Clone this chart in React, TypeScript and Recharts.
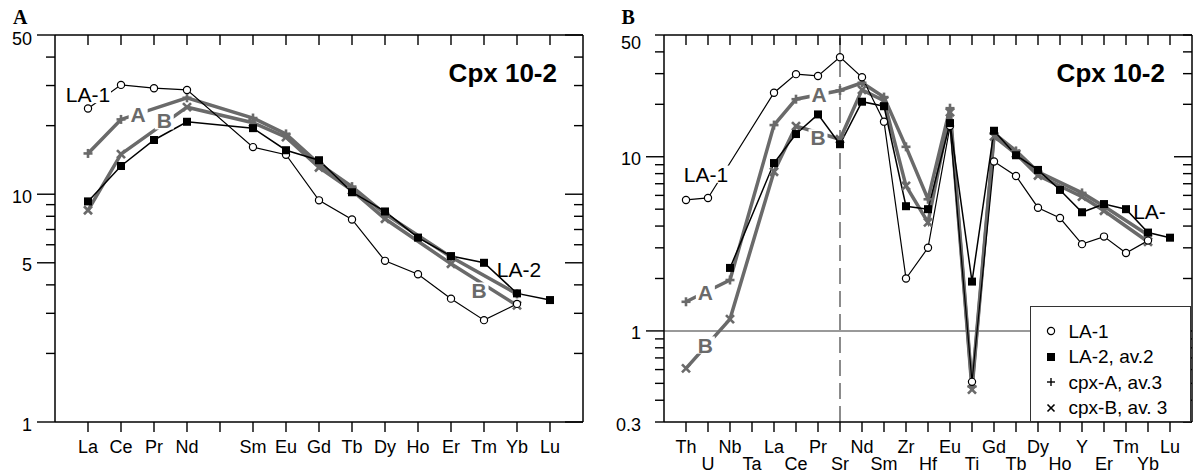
import React from "react";
import {
  LineChart,
  Line,
  XAxis,
  YAxis,
  ReferenceLine,
  ReferenceDot,
  Legend,
} from "recharts";

// --- panel A: REE, chondrite normalised ---
const reeLabels = ["La", "Ce", "Pr", "Nd", "", "Sm", "Eu", "Gd", "Tb", "Dy", "Ho", "Er", "Tm", "Yb", "Lu"];
const reeLA1 = [23.8, 30.2, 29.2, 28.7, null, 16.1, 14.9, 9.4, 7.75, 5.1, 4.45, 3.48, 2.8, 3.3, null];
const reeLA2 = [9.3, 13.3, 17.3, 20.8, null, 19.5, 15.6, 14.1, 10.2, 8.4, 6.45, 5.35, 5.0, 3.67, 3.43];
const reeCpxA = [15.1, 21.3, null, 26.5, null, 21.6, 18.4, 13.6, 10.8, 8.2, null, 5.3, null, 3.65, null];
const reeCpxB = [8.5, 15.0, null, 24.1, null, 20.6, 17.8, 13.1, 10.4, 7.8, null, 4.95, null, 3.25, null];

// --- panel B: spider diagram ---
const spiderLabels = ["Th", "U", "Nb", "Ta", "La", "Ce", "Pr", "Sr", "Nd", "Sm", "Zr", "Hf", "Eu", "Ti", "Gd", "Tb", "Dy", "Ho", "Y", "Er", "Tm", "Yb", "Lu"];
const spLA1 = [5.65, 5.8, null, null, 23.3, 29.8, 29.1, 37.3, 28.6, 15.9, 2.0, 3.0, 15.0, 0.51, 9.4, 7.75, 5.1, 4.45, 3.15, 3.48, 2.8, 3.3, null];
const spLA2 = [null, null, 2.3, null, 9.2, 13.5, 17.5, 11.8, 20.7, 19.5, 5.2, 5.0, 15.6, 1.92, 14.1, 10.2, 8.4, 6.45, 4.8, 5.35, 5.0, 3.67, 3.43];
const spCpxA = [1.47, null, 1.96, null, 15.2, 21.4, null, 24.0, 26.6, 22.0, 11.4, 5.7, 19.0, 0.48, 13.6, 10.8, 8.2, null, 6.2, 5.2, null, 3.55, null];
const spCpxB = [0.61, null, 1.17, null, 8.2, 15.0, null, 12.6, 24.2, 21.0, 6.8, 4.2, 18.0, 0.46, 13.1, 10.4, 7.8, null, 5.9, 4.9, null, 3.25, null];

// y ticks
const yTicksA = [1, 2, 3, 4, 5, 6, 7, 8, 9, 10, 20, 30, 40, 50];
const yLabelsA = [1, 5, 10, 50];
const yMajorA = [1, 5, 10, 50];
const yTicksB = [0.3, 0.4, 0.5, 0.6, 0.7, 0.8, 0.9, 1, 2, 3, 4, 5, 6, 7, 8, 9, 10, 20, 30, 40, 50];
const yLabelsB = [0.3, 1, 10, 50];
const yMajorB = [1, 10];

// text annotations (x = element index, y = value)
const notesA = [
  { x: 1.0, y: 27.4, text: "LA-1", bold: false, gray: false, boxW: 46 },
  { x: 2.52, y: 22.5, text: "A", bold: true, gray: true, boxW: 19 },
  { x: 3.31, y: 21.0, text: "B", bold: true, gray: true, boxW: 19 },
  { x: 14.06, y: 4.65, text: "LA-2", bold: false, gray: false, boxW: 0 },
  { x: 12.85, y: 3.76, text: "B", bold: true, gray: true, boxW: 19 },
];
const notesB = [
  { x: 1.91, y: 7.94, text: "LA-1", bold: false, gray: false, boxW: 46 },
  { x: 1.88, y: 1.66, text: "A", bold: true, gray: true, boxW: 19 },
  { x: 1.88, y: 0.83, text: "B", bold: true, gray: true, boxW: 19 },
  { x: 7.05, y: 22.8, text: "A", bold: true, gray: true, boxW: 19 },
  { x: 7.0, y: 12.85, text: "B", bold: true, gray: true, boxW: 19 },
  { x: 22.07, y: 4.87, text: "LA-", bold: false, gray: false, boxW: 0 },
];

const seriesOrder = ["la1", "la2", "cpxA", "cpxB"];

const FONT = "'Liberation Sans', Arial, Helvetica, sans-serif";
const GRAY = "#6a6a6a";

const rowsA = reeLabels.map((el, i) => ({
  idx: i + 1,
  el,
  la1: reeLA1[i],
  la2: reeLA2[i],
  cpxA: reeCpxA[i],
  cpxB: reeCpxB[i],
}));
const rowsB = spiderLabels.map((el, i) => ({
  idx: i + 1,
  el,
  la1: spLA1[i],
  la2: spLA2[i],
  cpxA: spCpxA[i],
  cpxB: spCpxB[i],
}));

const ok = (p: any) => Number.isFinite(p.cx) && Number.isFinite(p.cy);

const dotCircle = (p: any) =>
  ok(p) ? (
    <circle key={`c${p.index}`} cx={p.cx} cy={p.cy} r={3.6} fill="#fff" stroke="#000" strokeWidth={1.2} />
  ) : (
    <g key={`c${p.index}`} />
  );
const dotSquare = (p: any) =>
  ok(p) ? (
    <rect key={`s${p.index}`} x={p.cx - 4} y={p.cy - 4} width={8} height={8} fill="#000" />
  ) : (
    <g key={`s${p.index}`} />
  );
const dotPlus = (p: any) =>
  ok(p) ? (
    <g key={`p${p.index}`} stroke={GRAY} strokeWidth={2.6}>
      <line x1={p.cx - 4.5} x2={p.cx + 4.5} y1={p.cy} y2={p.cy} />
      <line x1={p.cx} x2={p.cx} y1={p.cy - 4.5} y2={p.cy + 4.5} />
    </g>
  ) : (
    <g key={`p${p.index}`} />
  );
const dotCross = (p: any) =>
  ok(p) ? (
    <g key={`x${p.index}`} stroke={GRAY} strokeWidth={2.6}>
      <line x1={p.cx - 4} x2={p.cx + 4} y1={p.cy - 4} y2={p.cy + 4} />
      <line x1={p.cx - 4} x2={p.cx + 4} y1={p.cy + 4} y2={p.cy - 4} />
    </g>
  ) : (
    <g key={`x${p.index}`} />
  );

// x tick text; the tick marks are the axis' tickLine (tickSize 10)
const XLabel = (props: any) => {
  const { x, y, payload, labels, stagger } = props;
  const i = Math.round(payload.value) - 1;
  const lab = labels[i] || "";
  if (!lab) return <g />;
  const dy = stagger && i % 2 === 1 ? 37.5 : 21;
  return (
    <text x={x} y={y + dy} textAnchor="middle" fontSize={18} fontFamily={FONT} fill="#000">
      {lab}
    </text>
  );
};

// y ticks: long marks on the majors, short on the rest (tickSize 0 -> x is the axis line)
const YTickLeft = (props: any) => {
  const { x, y, payload, labels, majors, topNudge } = props;
  const v = payload.value;
  const len = majors.includes(v) ? 18 : 9;
  const nudge = v === 50 ? topNudge : 0;
  return (
    <g>
      <rect x={x - len} y={y - 0.7} width={len} height={1.4} fill="#000" />
      {labels.includes(v) && (
        <text x={x - 23} y={y + 8.5 + nudge} textAnchor="end" fontSize={18} fontFamily={FONT} fill="#000">
          {v}
        </text>
      )}
    </g>
  );
};

const YTickRight = (props: any) => {
  const { x, y, payload, majors } = props;
  const len = majors.includes(payload.value) ? 18 : 9;
  return <rect x={x - len} y={y - 0.7} width={len} height={1.4} fill="#000" />;
};

const NoLabel = () => <g />;

const Tag = ({ cx, cy, note }: any) => {
  if (!Number.isFinite(cx) || !Number.isFinite(cy)) return <g />;
  const size = 21;
  const h = size * 0.82;
  return (
    <g>
      {note.boxW > 0 && (
        <rect x={cx - note.boxW / 2} y={cy - h / 2} width={note.boxW} height={h} fill="#fff" />
      )}
      <text
        x={cx}
        y={cy + size * 0.358}
        textAnchor="middle"
        fontSize={size}
        fontWeight={note.bold ? 700 : 400}
        fontFamily={FONT}
        fill={note.gray ? GRAY : "#000"}
      >
        {note.text}
      </text>
    </g>
  );
};

const legendSymbol = (key: string) => {
  if (key === "la1") return <circle cx={7} cy={7} r={3.6} fill="#fff" stroke="#000" strokeWidth={1.2} />;
  if (key === "la2") return <rect x={3} y={3} width={8} height={8} fill="#000" />;
  if (key === "cpxA")
    return (
      <g stroke="#000" strokeWidth={1.4}>
        <line x1={3} x2={11} y1={7} y2={7} />
        <line x1={7} x2={7} y1={3} y2={11} />
      </g>
    );
  return (
    <g stroke="#000" strokeWidth={1.6}>
      <line x1={3.5} x2={10.5} y1={3.5} y2={10.5} />
      <line x1={3.5} x2={10.5} y1={10.5} y2={3.5} />
    </g>
  );
};

const LegendBox = ({ payload }: any) => {
  const items = [...(payload || [])].sort(
    (a: any, b: any) => seriesOrder.indexOf(a.dataKey) - seriesOrder.indexOf(b.dataKey)
  );
  return (
    <div
      style={{
        width: 161,
        height: 116,
        boxSizing: "border-box",
        border: "1.5px solid #333",
        background: "#fff",
        paddingTop: 11.5,
        fontFamily: FONT,
        fontSize: 19,
        color: "#000",
      }}
    >
      {items.map((it: any) => (
        <div key={it.dataKey} style={{ display: "flex", alignItems: "center", height: 25.5 }}>
          <svg width={14} height={14} style={{ marginLeft: 13.2, flex: "none" }}>
            {legendSymbol(it.dataKey)}
          </svg>
          <span style={{ marginLeft: 10.3, whiteSpace: "nowrap", lineHeight: "25px" }}>{it.value}</span>
        </div>
      ))}
    </div>
  );
};

const axisLine = { stroke: "#000", strokeWidth: 1.5 };
const tickLine = { stroke: "#000", strokeWidth: 1.4 };

const seriesLines = () => [
  <Line key="cpxA" xAxisId="b" yAxisId="l" dataKey="cpxA" name="cpx-A, av.3" stroke={GRAY} strokeWidth={3.5}
    dot={dotPlus} activeDot={false} connectNulls isAnimationActive={false} />,
  <Line key="cpxB" xAxisId="b" yAxisId="l" dataKey="cpxB" name="cpx-B, av. 3" stroke={GRAY} strokeWidth={3.5}
    dot={dotCross} activeDot={false} connectNulls isAnimationActive={false} />,
  <Line key="la1" xAxisId="b" yAxisId="l" dataKey="la1" name="LA-1" stroke="#000" strokeWidth={1.2}
    dot={dotCircle} activeDot={false} connectNulls isAnimationActive={false} />,
  <Line key="la2" xAxisId="b" yAxisId="l" dataKey="la2" name="LA-2, av.2" stroke="#000" strokeWidth={1.5}
    dot={dotSquare} activeDot={false} connectNulls isAnimationActive={false} />,
];

// box frame: labelled bottom/left axes, mirrored top/right axes with inward ticks
const frameAxes = (
  count: number,
  labels: string[],
  stagger: boolean,
  yDomain: number[],
  yTicks: number[],
  yMajor: number[],
  yLabels: number[],
  leftWidth: number,
  topNudge: number
) => {
  const xTicks = Array.from({ length: count }, (_, i) => i + 1);
  const xDomain = [0, count + 1];
  return [
    <XAxis key="xb" xAxisId="b" dataKey="idx" type="number" domain={xDomain} ticks={xTicks} interval={0}
      allowDataOverflow height={30} tickSize={10} tickMargin={0} tickLine={tickLine} axisLine={axisLine}
      tick={<XLabel labels={labels} stagger={stagger} />} />,
    <XAxis key="xt" xAxisId="t" orientation="top" mirror dataKey="idx" type="number" domain={xDomain}
      ticks={xTicks} interval={0} allowDataOverflow height={1} tickSize={10} tickMargin={0}
      tickLine={tickLine} axisLine={axisLine} tick={<NoLabel />} />,
    <YAxis key="yl" yAxisId="l" type="number" scale="log" domain={yDomain} allowDataOverflow ticks={yTicks}
      interval={0} width={leftWidth} tickSize={0} tickMargin={0} tickLine={false} axisLine={axisLine}
      tick={<YTickLeft labels={yLabels} majors={yMajor} topNudge={topNudge} />} />,
    <YAxis key="yr" yAxisId="r" orientation="right" mirror type="number" scale="log" domain={yDomain}
      allowDataOverflow ticks={yTicks} interval={0} width={1} tickSize={0} tickMargin={0}
      tickLine={false} axisLine={axisLine} tick={<YTickRight majors={yMajor} />} />,
  ];
};

export default function App() {
  return (
    <div style={{ position: "absolute", left: 0, top: 0, width: 1195, height: 472, background: "#fff" }}>
      {/* panel A */}
      <div style={{ position: "absolute", left: 0, top: 0 }}>
        <LineChart width={600} height={472} data={rowsA} margin={{ top: 35, right: 17, bottom: 20, left: 0 }}>
          {frameAxes(reeLabels.length, reeLabels, false, [1, 50], yTicksA, yMajorA, yLabelsA, 55, 1.5)}
          {seriesLines()}
          {notesA.map((n, i) => (
            <ReferenceDot key={`na${i}`} xAxisId="b" yAxisId="l" x={n.x} y={n.y} ifOverflow="visible"
              zIndex={1500} shape={(p: any) => <Tag cx={p.cx} cy={p.cy} note={n} />} />
          ))}
        </LineChart>
      </div>

      {/* panel B */}
      <div style={{ position: "absolute", left: 600, top: 0 }}>
        <LineChart width={595} height={472} data={rowsB} margin={{ top: 35, right: 3, bottom: 20, left: 0 }}>
          {frameAxes(spiderLabels.length, spiderLabels, true, [0.3, 50], yTicksB, yMajorB, yLabelsB, 64, 5.5)}
          <ReferenceLine xAxisId="b" yAxisId="l" y={1} stroke="#777" strokeWidth={1.5} />
          <ReferenceLine xAxisId="b" yAxisId="l" x={8} stroke="#666" strokeWidth={1.5} strokeDasharray="16 7" />
          {seriesLines()}
          {notesB.map((n, i) => (
            <ReferenceDot key={`nb${i}`} xAxisId="b" yAxisId="l" x={n.x} y={n.y} ifOverflow="visible"
              zIndex={1500} shape={(p: any) => <Tag cx={p.cx} cy={p.cy} note={n} />} />
          ))}
          <Legend layout="vertical" align="center" verticalAlign="middle" content={<LegendBox />}
            wrapperStyle={{ position: "absolute", left: 430, top: 306, width: 161, height: 116 }} />
        </LineChart>
      </div>

      {/* panel letters and titles */}
      <svg width={1195} height={472} style={{ position: "absolute", left: 0, top: 0, pointerEvents: "none" }}>
        <text x={13} y={24} fontSize={20} fontWeight={700} fontFamily="'Liberation Serif', 'Times New Roman', serif">A</text>
        <text x={621.5} y={24} fontSize={20} fontWeight={700} fontFamily="'Liberation Serif', 'Times New Roman', serif">B</text>
        <text x={557} y={81.7} textAnchor="end" fontSize={26} fontWeight={700} fontFamily={FONT}>Cpx 10-2</text>
        <text x={1165} y={81.7} textAnchor="end" fontSize={26} fontWeight={700} fontFamily={FONT}>Cpx 10-2</text>
      </svg>
    </div>
  );
}
